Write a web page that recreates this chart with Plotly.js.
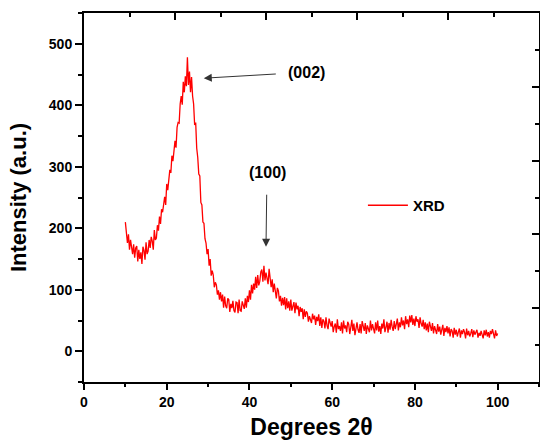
<!DOCTYPE html>
<html>
<head>
<meta charset="utf-8">
<script src="https://cdn.plot.ly/plotly-3.0.1.min.js"></script>
<style>html,body{margin:0;padding:0;background:#fff;}#chart{width:540px;height:440px;}</style>
</head>
<body>
<div id="chart"></div>
<script>
// Diffraction angle (degrees 2θ)
const twoTheta = [
10,10.25,10.5,10.75, 11,11.25,11.5,11.75, 12,12.25,12.5,12.75, 13,13.25,13.5,13.75, 14,14.25,14.5,14.75,
15,15.25,15.5,15.75, 16,16.25,16.5,16.75, 17,17.25,17.5,17.75, 18,18.25,18.5,18.75, 19,19.25,19.5,19.75,
20,20.25,20.5,20.75, 21,21.25,21.5,21.75, 22,22.25,22.5,22.75, 23,23.25,23.5,23.75, 24,24.25,24.5,24.75,
25,25.25,25.5,25.75, 26,26.25,26.5,26.75, 27,27.25,27.5,27.75, 28,28.25,28.5,28.75, 29,29.25,29.5,29.75,
30,30.25,30.5,30.75, 31,31.25,31.5,31.75, 32,32.25,32.5,32.75, 33,33.25,33.5,33.75, 34,34.25,34.5,34.75,
35,35.25,35.5,35.75, 36,36.25,36.5,36.75, 37,37.25,37.5,37.75, 38,38.25,38.5,38.75, 39,39.25,39.5,39.75,
40,40.25,40.5,40.75, 41,41.25,41.5,41.75, 42,42.25,42.5,42.75, 43,43.25,43.5,43.75, 44,44.25,44.5,44.75,
45,45.25,45.5,45.75, 46,46.25,46.5,46.75, 47,47.25,47.5,47.75, 48,48.25,48.5,48.75, 49,49.25,49.5,49.75,
50,50.25,50.5,50.75, 51,51.25,51.5,51.75, 52,52.25,52.5,52.75, 53,53.25,53.5,53.75, 54,54.25,54.5,54.75,
55,55.25,55.5,55.75, 56,56.25,56.5,56.75, 57,57.25,57.5,57.75, 58,58.25,58.5,58.75, 59,59.25,59.5,59.75,
60,60.25,60.5,60.75, 61,61.25,61.5,61.75, 62,62.25,62.5,62.75, 63,63.25,63.5,63.75, 64,64.25,64.5,64.75,
65,65.25,65.5,65.75, 66,66.25,66.5,66.75, 67,67.25,67.5,67.75, 68,68.25,68.5,68.75, 69,69.25,69.5,69.75,
70,70.25,70.5,70.75, 71,71.25,71.5,71.75, 72,72.25,72.5,72.75, 73,73.25,73.5,73.75, 74,74.25,74.5,74.75,
75,75.25,75.5,75.75, 76,76.25,76.5,76.75, 77,77.25,77.5,77.75, 78,78.25,78.5,78.75, 79,79.25,79.5,79.75,
80,80.25,80.5,80.75, 81,81.25,81.5,81.75, 82,82.25,82.5,82.75, 83,83.25,83.5,83.75, 84,84.25,84.5,84.75,
85,85.25,85.5,85.75, 86,86.25,86.5,86.75, 87,87.25,87.5,87.75, 88,88.25,88.5,88.75, 89,89.25,89.5,89.75,
90,90.25,90.5,90.75, 91,91.25,91.5,91.75, 92,92.25,92.5,92.75, 93,93.25,93.5,93.75, 94,94.25,94.5,94.75,
95,95.25,95.5,95.75, 96,96.25,96.5,96.75, 97,97.25,97.5,97.75, 98,98.25,98.5,98.75, 99,99.25,99.5,99.75,
100
];
// Intensity (a.u.)
const intensity = [
210,188,176,190, 165,181,172,158, 174,152,168,171, 146,165,150,161, 142,170,164,149,
177,158,163,181, 168,186,179,165, 197,181,184,205, 196,219,207,231, 226,244,251,238,
272,262,285,295, 290,318,309,333, 342,331,364,372, 371,402,415,401, 438,421,447,431,
478,433,455,421, 446,415,402,368, 372,330,315,288, 285,242,238,210, 208,183,176,158,
166,139,150,123, 131,124,104,112, 108,92,99,84, 96,81,92,71, 89,74,70,86,
84,64,77,70, 82,66,63,80, 79,62,84,66, 65,81,75,69, 86,71,90,80,
99,84,108,94, 110,100,121,103, 124,107,114,129, 133,113,139,115, 128,118,109,134,
121,104,117,96, 110,94,86,103, 98,81,90,74, 87,75,88,68, 86,70,81,66,
84,66,73,80, 62,79,68,74, 57,72,64,70, 52,68,56,65, 62,48,57,51,
46,61,52,58, 43,56,49,60, 41,55,38,52, 49,37,55,42, 36,53,44,40,
49,31,40,45, 30,52,36,41, 33,47,29,50, 37,42,31,48, 44,28,39,51,
33,45,26,40, 47,35,30,44, 29,49,38,33, 46,28,42,36, 31,50,34,44,
38,29,47,34, 50,32,41,28, 45,37,52,31, 39,48,30,46, 35,51,40,33,
49,36,44,53, 34,47,39,55, 42,50,36,57, 44,52,39,58, 47,59,43,53,
41,57,48,52, 38,55,45,40, 51,36,47,34, 45,31,48,37, 33,46,29,41,
36,28,44,32, 40,27,35,43, 25,38,31,41, 29,39,24,36, 33,22,38,27,
35,24,31,37, 22,34,28,36, 31,21,37,26, 33,24,29,36, 23,34,27,32,
35,22,30,25, 33,27,21,34, 26,35,24,31, 22,33,28,36, 30,21,34,25,
29
];
const seriesName = 'XRD';
const xTickVals = [0, 20, 40, 60, 80, 100];
const yTickVals = [0, 100, 200, 300, 400, 500];
const peakLabels = ['(002)', '(100)'];
const peakArrowX = [28.96, 44.0];
const peakArrowY = [444, 170];

const FONT = 'Liberation Sans, Arial, Helvetica, sans-serif';
const bold = (size) => ({family: FONT, size: size, color: '#000', weight: 'bold'});

const traces = [
  {
    x: twoTheta, y: intensity, type: 'scatter', mode: 'lines', name: seriesName,
    line: {color: '#ff0000', width: 1.3}
  },
  { x: [], y: [], xaxis: 'x2', yaxis: 'y2', type: 'scatter', mode: 'lines', showlegend: false, hoverinfo: 'skip' }
];

const layout = {
  width: 540, height: 440,
  margin: {l: 84, r: 1, t: 13, b: 58},
  paper_bgcolor: '#fff', plot_bgcolor: '#fff',
  showlegend: true,
  legend: {x: 0.613, y: 0.523, xanchor: 'left', yanchor: 'top', bgcolor: 'rgba(0,0,0,0)', font: bold(15), itemwidth: 40},
  xaxis: {
    range: [0, 110], tickvals: xTickVals, ticks: 'outside', ticklen: 6, tickwidth: 2, tickcolor: '#000',
    minor: {dtick: 10, tick0: 0, ticks: 'outside', ticklen: 3, tickwidth: 2, tickcolor: '#000'},
    showline: true, linewidth: 2, linecolor: '#000', showgrid: false, zeroline: false,
    tickfont: bold(14),
    title: {text: 'Degrees 2θ', font: bold(23), standoff: 12}
  },
  yaxis: {
    range: [-50, 550], tickvals: yTickVals, ticks: 'outside', ticklen: 7, tickwidth: 2, tickcolor: '#000',
    minor: {dtick: 50, tick0: 0, ticks: 'outside', ticklen: 4, tickwidth: 2, tickcolor: '#000'},
    showline: true, linewidth: 2, linecolor: '#000', showgrid: false, zeroline: false,
    tickfont: bold(14),
    title: {text: 'Intensity (a.u.)', font: bold(22), standoff: 16}
  },
  xaxis2: {
    overlaying: 'x', side: 'top', anchor: 'y2', range: [0, 10], dtick: 2, tick0: 0,
    ticks: 'inside', ticklen: 7, tickwidth: 2, tickcolor: '#000',
    minor: {dtick: 1, ticks: 'inside', ticklen: 4, tickwidth: 2, tickcolor: '#000'},
    showticklabels: false, showline: true, linewidth: 2, linecolor: '#000', showgrid: false, zeroline: false
  },
  yaxis2: {
    overlaying: 'y', side: 'right', anchor: 'x2', range: [0, 10], dtick: 2, tick0: 0,
    ticks: 'inside', ticklen: 7, tickwidth: 2, tickcolor: '#000',
    minor: {dtick: 1, ticks: 'inside', ticklen: 4, tickwidth: 2, tickcolor: '#000'},
    showticklabels: false, showline: true, linewidth: 2, linecolor: '#000', showgrid: false, zeroline: false
  },
  annotations: [
    {
      x: peakArrowX[0], y: peakArrowY[0], xref: 'x', yref: 'y', text: peakLabels[0],
      showarrow: true, ax: 103, ay: -6, arrowhead: 2, arrowsize: 1.6, arrowwidth: 1, arrowcolor: '#333',
      startstandoff: 11, font: bold(16)
    },
    {
      x: peakArrowX[1], y: peakArrowY[1], xref: 'x', yref: 'y', text: peakLabels[1],
      showarrow: true, ax: 1, ay: -74, arrowhead: 2, arrowsize: 1.6, arrowwidth: 1, arrowcolor: '#333',
      startstandoff: 12, font: bold(16)
    }
  ]
};

Plotly.newPlot('chart', traces, layout, {staticPlot: true, displayModeBar: false});
</script>
</body>
</html>
